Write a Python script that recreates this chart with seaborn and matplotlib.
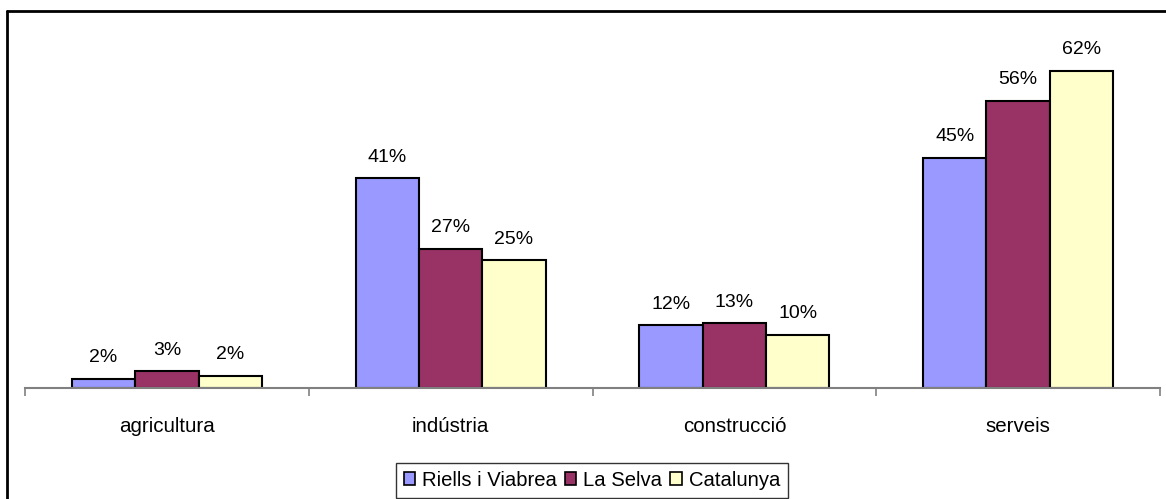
import pandas as pd
import matplotlib.pyplot as plt
import seaborn as sns
from matplotlib.lines import Line2D

# dades
sectors = ["agricultura", "indústria", "construcció", "serveis"]
riells = [1.8, 41.0, 12.3, 45.0]
selva = [3.3, 27.2, 12.7, 56.2]
catalunya = [2.4, 25.0, 10.4, 62.0]
series_names = ["Riells i Viabrea", "La Selva", "Catalunya"]
colors = ["#9999FF", "#993366", "#FFFFCC"]

df = pd.DataFrame({
    "sector": sectors * 3,
    "zona": [s for s in series_names for _ in sectors],
    "valor": riells + selva + catalunya,
})

sns.set_style("white")
plt.rcParams["font.family"] = ["Liberation Sans", "DejaVu Sans"]
plt.rcParams["text.color"] = "black"
plt.rcParams["xtick.color"] = "black"

W, H = 1166, 499
fig = plt.figure(figsize=(W / 100, H / 100), dpi=100)
ax = fig.add_axes([25 / W, 1 - 388 / H, (1160 - 25) / W, (388 - 30) / H])

sns.barplot(data=df, x="sector", y="valor", hue="zona", order=sectors,
            hue_order=series_names, palette=colors, width=0.67,
            edgecolor="black", linewidth=1.5, saturation=1, ax=ax)

# etiquetes de percentatge
for container in ax.containers:
    for bar in container:
        h = bar.get_height()
        ax.annotate("%.0f%%" % h, (bar.get_x() + bar.get_width() / 2, h),
                    xytext=(0, 9), textcoords="offset points",
                    ha="center", va="bottom", fontsize=14, color="black")

ax.set_xlim(-0.5, 3.5)
ax.set_ylim(0, 70)
ax.set_yticks([])
ax.set_xlabel("")
ax.set_ylabel("")
for s in ["left", "top", "right"]:
    ax.spines[s].set_visible(False)
ax.spines["bottom"].set_color("#808080")
ax.spines["bottom"].set_linewidth(1.5)

ax.set_xticks(range(len(sectors)))
ax.set_xticklabels(sectors, fontsize=14.8, color="black")
ax.set_xticks([i - 0.5 for i in range(len(sectors) + 1)], minor=True)
ax.tick_params(axis="x", which="major", length=0, pad=21)
ax.tick_params(axis="x", which="minor", direction="out", length=6,
               width=1.2, color="#808080", bottom=True)

ax.get_legend().remove()
handles = [plt.Rectangle((0, 0), 1, 1, facecolor=c, edgecolor="black", linewidth=1.2)
           for c in colors]
leg = fig.legend(handles, series_names, loc="lower center",
                 bbox_to_anchor=(592 / W, -9 / H), ncol=3, fontsize=14.6,
                 frameon=True, fancybox=False, handlelength=0.55, handleheight=0.55,
                 handletextpad=0.35, columnspacing=0.4, borderpad=0.4)
leg.get_frame().set_edgecolor("black")
leg.get_frame().set_linewidth(1.0)

# marc del gràfic
fig.add_artist(Line2D([7 / W, 7 / W], [0, 1 - 11 / H], transform=fig.transFigure,
                      color="black", linewidth=2))
fig.add_artist(Line2D([7 / W, 1], [1 - 11 / H, 1 - 11 / H], transform=fig.transFigure,
                      color="black", linewidth=2))

fig.savefig("out.png", dpi=100)
